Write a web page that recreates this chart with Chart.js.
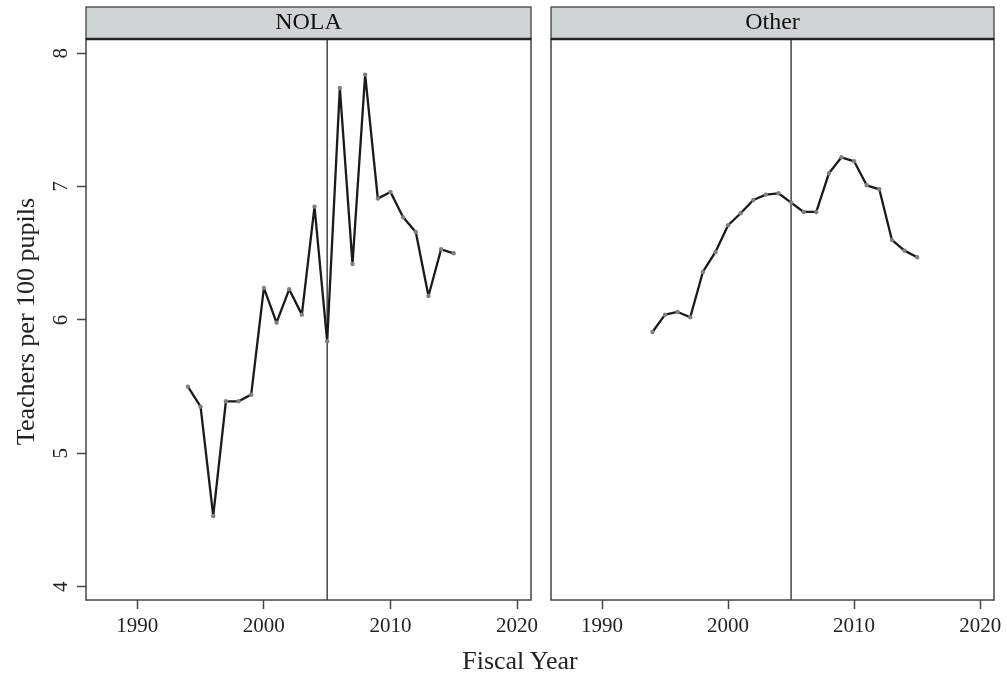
<!DOCTYPE html>
<html>
<head>
<meta charset="utf-8">
<script src="https://cdn.jsdelivr.net/npm/chart.js@4.4.1/dist/chart.umd.min.js"></script>
<style>
  body { margin: 0; background: #fff; }
  #wrap { position: relative; width: 1007px; height: 678px; }
  .panel { position: absolute; top: 0; height: 678px; }
  #p1 { left: 0; width: 545px; }
  #p2 { left: 545px; width: 462px; }
  #xtitle {
    position: absolute; left: 420px; width: 200px; top: 646px;
    text-align: center; font: 26px "Liberation Serif", serif; color: #222;
  }
</style>
</head>
<body>
<div id="wrap">
  <div class="panel" id="p1"><canvas id="cNola"></canvas></div>
  <div class="panel" id="p2"><canvas id="cOther"></canvas></div>
  <div id="xtitle">Fiscal Year</div>
</div>
<script>
// datos
var anios = [1994, 1995, 1996, 1997, 1998, 1999, 2000, 2001, 2002, 2003, 2004,
             2005, 2006, 2007, 2008, 2009, 2010, 2011, 2012, 2013, 2014, 2015];
var nola = [5.50, 5.35, 4.53, 5.39, 5.39, 5.44, 6.24, 5.98, 6.23, 6.04, 6.85,
            5.84, 7.74, 6.42, 7.84, 6.91, 6.96, 6.77, 6.66, 6.18, 6.53, 6.50];
var otros = [5.91, 6.04, 6.06, 6.02, 6.36, 6.51, 6.71, 6.80, 6.90, 6.94, 6.95,
             6.88, 6.81, 6.81, 7.10, 7.22, 7.19, 7.01, 6.98, 6.60, 6.52, 6.47];
var ticksX = [1990, 2000, 2010, 2020];
var ticksY = [4, 5, 6, 7, 8];
var anioCorte = 2005;

var serif = '"Liberation Serif", "Times New Roman", serif';

// dibuja la franja del titulo, el marco, la linea vertical y las etiquetas rotadas
var panelPlugin = {
  id: 'panel',
  beforeDatasetsDraw: function(chart) {
    var ctx = chart.ctx, a = chart.chartArea;
    var xp = chart.scales.x.getPixelForValue(anioCorte);
    ctx.save();
    ctx.strokeStyle = '#444';
    ctx.lineWidth = 1.5;
    ctx.beginPath();
    ctx.moveTo(xp, a.top);
    ctx.lineTo(xp, a.bottom);
    ctx.stroke();
    ctx.restore();
  },
  afterDraw: function(chart, args, opts) {
    var ctx = chart.ctx, a = chart.chartArea;
    ctx.save();
    // marco
    ctx.strokeStyle = '#444';
    ctx.lineWidth = 1.5;
    ctx.strokeRect(a.left, a.top, a.right - a.left, a.bottom - a.top);
    // franja
    ctx.fillStyle = '#d1d4d5';
    ctx.fillRect(a.left, 7, a.right - a.left, a.top - 7);
    ctx.lineWidth = 1.2;
    ctx.strokeStyle = '#333';
    ctx.strokeRect(a.left, 7, a.right - a.left, a.top - 7);
    ctx.lineWidth = 2.5;
    ctx.strokeStyle = '#222';
    ctx.beginPath();
    ctx.moveTo(a.left, a.top);
    ctx.lineTo(a.right, a.top);
    ctx.stroke();
    ctx.fillStyle = '#111';
    ctx.font = '24px ' + serif;
    ctx.textAlign = 'center';
    ctx.textBaseline = 'middle';
    ctx.fillText(opts.titulo, (a.left + a.right) / 2, 23);

    if (opts.ejeY) {
      var y = chart.scales.y;
      ctx.font = '21px ' + serif;
      ctx.fillStyle = '#222';
      ticksY.forEach(function(v) {
        ctx.save();
        ctx.translate(61, y.getPixelForValue(v));
        ctx.rotate(-Math.PI / 2);
        ctx.fillText(String(v), 0, 0);
        ctx.restore();
      });
      ctx.save();
      ctx.font = '26px ' + serif;
      ctx.translate(27, (a.top + a.bottom) / 2 + 2);
      ctx.rotate(-Math.PI / 2);
      ctx.fillText('Teachers per 100 pupils', 0, 0);
      ctx.restore();
    }
    ctx.restore();
  }
};

function crearPanel(id, valores, titulo, ejeY, padding) {
  var puntos = anios.map(function(an, i) { return { x: an, y: valores[i] }; });
  return new Chart(document.getElementById(id), {
    type: 'line',
    data: {
      datasets: [{
        data: puntos,
        borderColor: '#1a1a1a',
        borderWidth: 2.3,
        borderJoinStyle: 'round',
        borderCapStyle: 'round',
        pointRadius: 2.2,
        pointBackgroundColor: '#808080',
        pointBorderWidth: 0,
        tension: 0
      }]
    },
    options: {
      responsive: true,
      maintainAspectRatio: false,
      animation: false,
      layout: { padding: padding },
      plugins: {
        legend: { display: false },
        tooltip: { enabled: false },
        panel: { titulo: titulo, ejeY: ejeY }
      },
      scales: {
        x: {
          type: 'linear',
          min: 1985.95,
          max: 2021.1,
          afterBuildTicks: function(s) { s.ticks = ticksX.map(function(v) { return { value: v }; }); },
          ticks: {
            font: { family: serif, size: 21 },
            color: '#222',
            padding: 5,
            maxRotation: 0,
            callback: function(v) { return String(v); }
          },
          grid: { drawOnChartArea: false, tickLength: 9, tickColor: '#444', tickWidth: 1.5 },
          border: { display: false },
          afterFit: function(s) { s.height = 78; }
        },
        y: {
          display: ejeY,
          min: 3.9,
          max: 8.107,
          afterBuildTicks: function(s) { s.ticks = ticksY.map(function(v) { return { value: v }; }); },
          ticks: { display: false },
          grid: { drawOnChartArea: false, tickLength: 9, tickColor: '#444', tickWidth: 1.5 },
          border: { display: false },
          afterFit: function(s) { s.width = ejeY ? 86 : 0; }
        }
      }
    },
    plugins: [panelPlugin]
  });
}

crearPanel('cNola', nola, 'NOLA', true, { top: 39, right: 14, left: 0, bottom: 0 });
crearPanel('cOther', otros, 'Other', false, { top: 39, right: 13, left: 6, bottom: 0 });
</script>
</body>
</html>
